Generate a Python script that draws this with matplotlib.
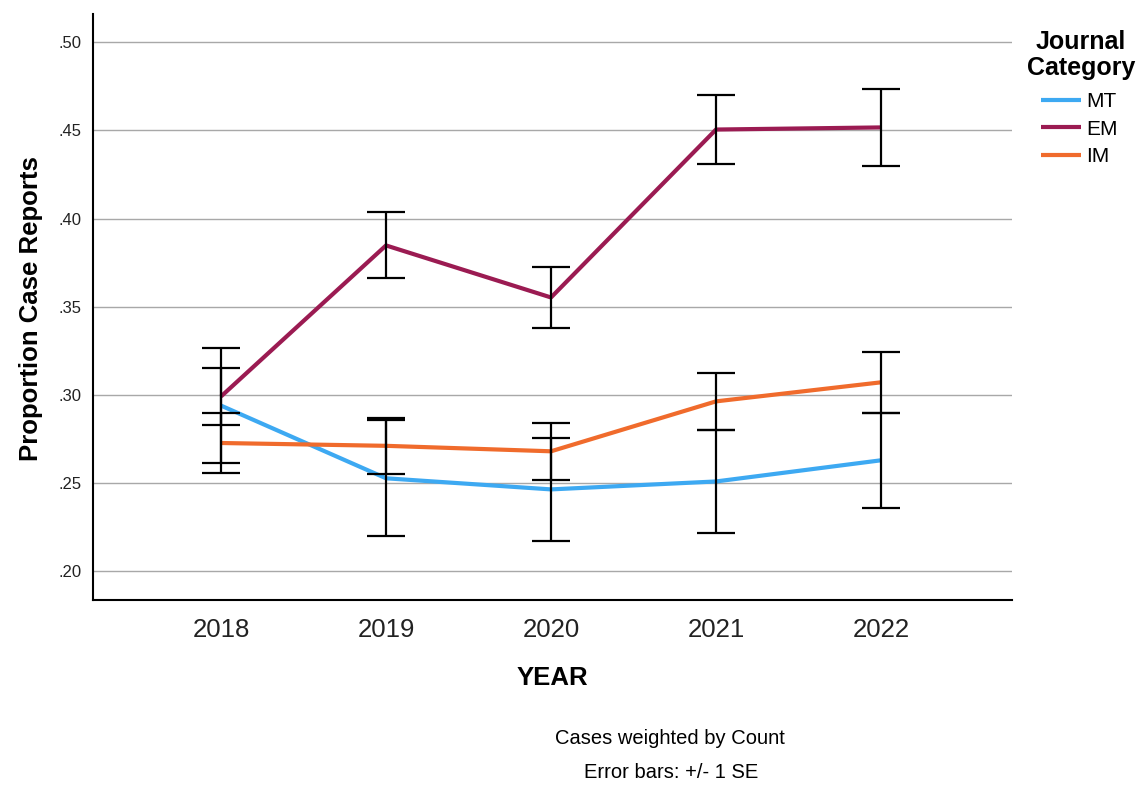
import numpy as np
import matplotlib.pyplot as plt
from matplotlib.ticker import FuncFormatter

plt.rcParams['font.family'] = ['Liberation Sans', 'DejaVu Sans']

# data
years = [2018, 2019, 2020, 2021, 2022]
mt = [0.294, 0.2528, 0.2465, 0.2510, 0.2630]
mt_se = [0.0326, 0.0328, 0.0293, 0.0293, 0.0270]
em = [0.2992, 0.3848, 0.3553, 0.4505, 0.4517]
em_se = [0.0164, 0.0187, 0.0172, 0.0196, 0.0219]
im = [0.2728, 0.2712, 0.2681, 0.2964, 0.3072]
im_se = [0.0168, 0.0160, 0.0161, 0.0161, 0.0172]
names = ["MT", "EM", "IM"]
colors = ["#3DA9F2", "#9B1B52", "#F06B2C"]
yticks = [0.20, 0.25, 0.30, 0.35, 0.40, 0.45, 0.50]

fig = plt.figure(figsize=(11.37, 7.90), dpi=100)
ax = fig.add_axes([93/1137, 1-600/790, (1012-93)/1137, (600-14)/790])

series = [(mt, mt_se), (em, em_se), (im, im_se)]
for (vals, se), name, c in zip(series, names, colors):
    ax.plot(years, vals, color=c, lw=3, label=name, zorder=3, solid_capstyle='butt')
for (vals, se), name, c in zip(series, names, colors):
    ax.errorbar(years, vals, yerr=se, fmt='none', ecolor='black', elinewidth=1.6,
                capsize=14, capthick=1.6, zorder=4)

ax.set_xlim(2017.224, 2022.794)
ax.set_ylim(0.1838, 0.516)
ax.set_xticks(years)
ax.set_xticklabels([str(y) for y in years], fontsize=18.5, color='#222222')
ax.set_yticks(yticks)
ax.yaxis.set_major_formatter(FuncFormatter(lambda v, p: ("%.2f" % v).lstrip('0')))
ax.tick_params(axis='y', length=0, pad=8, labelsize=12, labelcolor='#222222')
ax.tick_params(axis='x', length=0, pad=13)
ax.grid(axis='y', color='#A8A8A8', lw=1)
ax.set_axisbelow(True)
for s in ['top', 'right']:
    ax.spines[s].set_visible(False)
for s in ['left', 'bottom']:
    ax.spines[s].set_linewidth(1.5)

fig.text(552/1137, 1-678/790, "YEAR", ha='center', va='center', fontsize=18.5, fontweight='bold')
fig.text(31/1137, 1-309/790, "Proportion Case Reports", ha='center', va='center',
         rotation=90, fontsize=18.5, fontweight='bold')
fig.text(670/1137, 1-738/790, "Cases weighted by Count", ha='center', va='center', fontsize=14.5)
fig.text(671/1137, 1-772/790, "Error bars: +/- 1 SE", ha='center', va='center', fontsize=14.5)

fig.text(1081/1137, 1-55/790, "Journal\nCategory", ha='center', va='center',
         fontsize=18, fontweight='bold', linespacing=1.08)
h, l = ax.get_legend_handles_labels()
fig.legend(h, l, loc='upper left', bbox_to_anchor=(1041/1137, 1-92/790), frameon=False,
           borderpad=0, borderaxespad=0, handlelength=1.9, handletextpad=0.25,
           labelspacing=0.42, fontsize=15)

fig.savefig("out.png", dpi=100)
